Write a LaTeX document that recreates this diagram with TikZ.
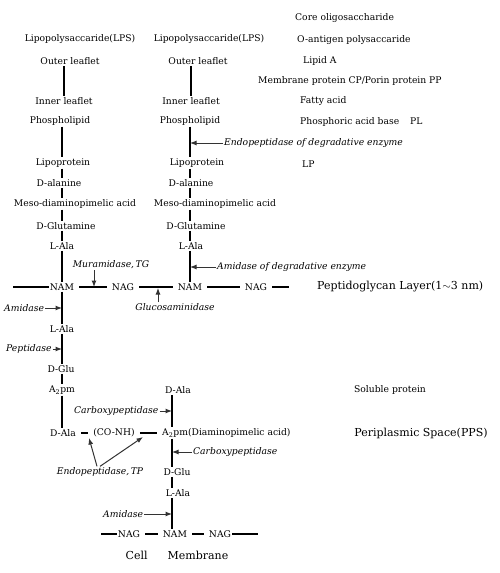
\documentclass[tikz,border=0pt]{standalone}
\usepackage{fontspec}
\setmainfont{DejaVu Serif}
\usetikzlibrary{arrows.meta}

\begin{document}
\begin{tikzpicture}
        [
            x = 1pt, y = -1pt,
            every node/.style = {inner sep = 1pt, font = \fontsize{9.2}{10}\selectfont},
            enzyme/.style = {font = \fontsize{9.2}{10}\selectfont\itshape},
            big/.style = {font = \fontsize{11}{12}\selectfont},
            bond/.style = {line width = 1.2pt},
            heavy/.style = {line width = 2pt},
            link/.style = {shorten < = 4pt, shorten > = 4pt},
            arr/.style = {line width = 1pt, black!80, -{Latex[length = 6.5pt, width = 5pt]}}
        ]

        \useasboundingbox (0,0) rectangle (499,573);

        % spines and free ends
        \coordinate (spineL) at (62,0);
        \coordinate (spineR) at (190,0);
        \coordinate (spineC) at (172,0);
        \coordinate (endL) at (13,0);
        \coordinate (endR) at (293,0);
        \coordinate (endB1) at (101,0);
        \coordinate (endB2) at (258,0);
        \coordinate (tgTip) at (94,287);
        \coordinate (glcTip) at (158,288);
        \coordinate (tpTipA) at (89,438);
        \coordinate (tpTipB) at (143,437);

        % outer membrane
        \node (lpsL) at (80,39) {Lipopolysaccaride(LPS)};
        \node (lpsR) at (209,39) {Lipopolysaccaride(LPS)};
        \node (outerL) at (70,61) {Outer leaflet};
        \node (outerR) at (198,61) {Outer leaflet};
        \node (innerL) at (64,101) {Inner leaflet};
        \node (innerR) at (191,101) {Inner leaflet};
        \node (phosL) at (60,121) {Phospholipid};
        \node (phosR) at (190,121) {Phospholipid};
        \node (lipoL) at (63,163) {Lipoprotein};
        \node (lipoR) at (197,163) {Lipoprotein};
        \node (dalanL) at (59,183) {D-alanine};
        \node (dalanR) at (191,183) {D-alanine};
        \node (mesoL) at (75,204) {Meso-diaminopimelic acid};
        \node (mesoR) at (215,204) {Meso-diaminopimelic acid};
        \node (dglnL) at (66,226) {D-Glutamine};
        \node (dglnR) at (196,226) {D-Glutamine};
        \node (alaL) at (62,246) {L-Ala};
        \node (alaR) at (191,246) {L-Ala};

        \node[anchor = west] (core) at (294,18) {Core oligosaccharide};
        \node[anchor = west] (oanti) at (296,40) {O-antigen polysaccaride};
        \node[anchor = west] (lipA) at (302,61) {Lipid A};
        \node[anchor = west] (memb) at (257,81) {Membrane protein CP/Porin protein PP};
        \node[anchor = west] (fatty) at (299,101) {Fatty acid};
        \node[anchor = west] (phacid) at (299,122) {Phosphoric acid base\hspace{8pt} PL};
        \node[anchor = west] (lp) at (301,164) {LP};

        % peptidoglycan
        \node (namL) at (62,287) {NAM};
        \node (nagL) at (123,287) {NAG};
        \node (namR) at (190,287) {NAM};
        \node (nagR) at (256,287) {NAG};
        \node[big, anchor = west] (pglayer) at (316,287) {Peptidoglycan Layer(1$\sim$3 nm)};

        \node (alaL2) at (62,329) {L-Ala};
        \node (gluL) at (61,369) {D-Glu};
        \node (apmL) at (62,390) {A\textsubscript{2}pm};
        \node (dalaL) at (63,433) {D-Ala};
        \node (conh) at (114,433) {(CO-NH)};
        \node[anchor = west] (apmR) at (161,433) {A\textsubscript{2}pm(Diaminopimelic acid)};
        \node (dalaR) at (178,390) {D-Ala};
        \node (soluble) at (390,390) {Soluble protein};
        \node[big] (pps) at (421,433) {Periplasmic Space(PPS)};
        \node (gluR) at (177,472) {D-Glu};
        \node (alaR2) at (178,493) {L-Ala};
        \node (nagB1) at (129,534) {NAG};
        \node (namB) at (175,534) {NAM};
        \node (nagB2) at (220,534) {NAG};
        \node[big] (cellmem) at (177,555) {Cell\hspace{20pt}Membrane};

        % enzymes
        \node[enzyme, anchor = west] (endoDeg) at (223,143) {Endopeptidase of degradative enzyme};
        \node[enzyme, anchor = west] (amiDeg) at (216,267) {Amidase of degradative enzyme};
        \node[enzyme] (muram) at (111,265) {Muramidase,\,TG};
        \node[enzyme] (glcase) at (175,307) {Glucosaminidase};
        \node[enzyme, anchor = west] (amiL) at (3,308) {Amidase};
        \node[enzyme, anchor = west] (peptL) at (5,349) {Peptidase};
        \node[enzyme, anchor = west] (carbL) at (73,411) {Carboxypeptidase};
        \node[enzyme, anchor = west] (carbR) at (192,452) {Carboxypeptidase};
        \node[enzyme] (endoTP) at (100,472) {Endopeptidase,\,TP};
        \node[enzyme, anchor = west] (amiB) at (102,514) {Amidase};

        % left chain
        \draw[bond] (outerL.south -| innerL) -- (innerL.north);
        \draw[bond] (phosL.south -| spineL) -- (lipoL.north -| spineL);
        \draw[bond] (lipoL.south -| spineL) -- (dalanL.north -| spineL);
        \draw[bond] (dalanL.south -| spineL) -- (mesoL.north -| spineL);
        \draw[heavy] (mesoL.south -| spineL) -- (dglnL.north -| spineL);
        \draw[heavy] (dglnL.south -| spineL) -- (alaL.north -| spineL);
        \draw[bond] (alaL.south -| spineL) -- (namL.north -| spineL);
        \draw[heavy] (namL.south -| spineL) -- (alaL2.north -| spineL);
        \draw[heavy] (alaL2.south -| spineL) -- (gluL.north -| spineL);
        \draw[heavy] (gluL.south -| spineL) -- (apmL.north -| spineL);
        \draw[heavy] (apmL.south -| spineL) -- (dalaL.north -| spineL);

        % right chain
        \draw[bond] (outerR.south -| innerR) -- (innerR.north);
        \draw[heavy] (phosR.south -| spineR) -- (lipoR.north -| spineR);
        \draw[bond] (lipoR.south -| spineR) -- (dalanR.north -| spineR);
        \draw[heavy] (dalanR.south -| spineR) -- (mesoR.north -| spineR);
        \draw[heavy] (mesoR.south -| spineR) -- (dglnR.north -| spineR);
        \draw[heavy] (dglnR.south -| spineR) -- (alaR.north -| spineR);
        \draw[heavy] (alaR.south -| spineR) -- (namR.north -| spineR);

        % glycan strand
        \draw[bond] (namL.west -| endL) -- (namL.west);
        \draw[bond, link] (namL.east) -- (nagL.west);
        \draw[bond, link] (nagL.east) -- (namR.west);
        \draw[heavy, link] (namR.east) -- (nagR.west);
        \draw[bond, link] (nagR.east) -- (nagR.east -| endR);

        % cross bridge
        \draw[heavy] (dalaR.south -| spineC) -- (apmR.north -| spineC);
        \draw[bond, link] (dalaL.east) -- (conh.west);
        \draw[bond, link] (conh.east) -- (apmR.west);
        \draw[heavy] (apmR.south -| spineC) -- (gluR.north -| spineC);
        \draw[bond] (gluR.south -| spineC) -- (alaR2.north -| spineC);
        \draw[heavy] (alaR2.south -| spineC) -- (namB.north -| spineC);

        % inner strand
        \draw[heavy] (nagB1.west -| endB1) -- (nagB1.west);
        \draw[bond, link] (nagB1.east) -- (namB.west);
        \draw[bond, link] (namB.east) -- (nagB2.west);
        \draw[heavy] (nagB2.east) -- (nagB2.east -| endB2);

        % cleavage sites
        \draw[arr] (endoDeg.west) -- (endoDeg.west -| spineR);
        \draw[arr] (amiDeg.west) -- (amiDeg.west -| spineR);
        \draw[arr] (muram.south -| tgTip) -- (tgTip);
        \draw[arr] (glcase.north -| glcTip) -- (glcTip);
        \draw[arr] (amiL.east) -- (amiL.east -| spineL);
        \draw[arr] (peptL.east) -- (peptL.east -| spineL);
        \draw[arr] (carbL.east) -- (carbL.east -| spineC);
        \draw[arr] (carbR.west) -- (carbR.west -| spineC);
        \draw[arr] ([xshift = -3pt]endoTP.north) -- (tpTipA);
        \draw[arr] (endoTP.north) -- (tpTipB);
        \draw[arr] (amiB.east) -- (amiB.east -| spineC);
        \end{tikzpicture}
\end{document}
